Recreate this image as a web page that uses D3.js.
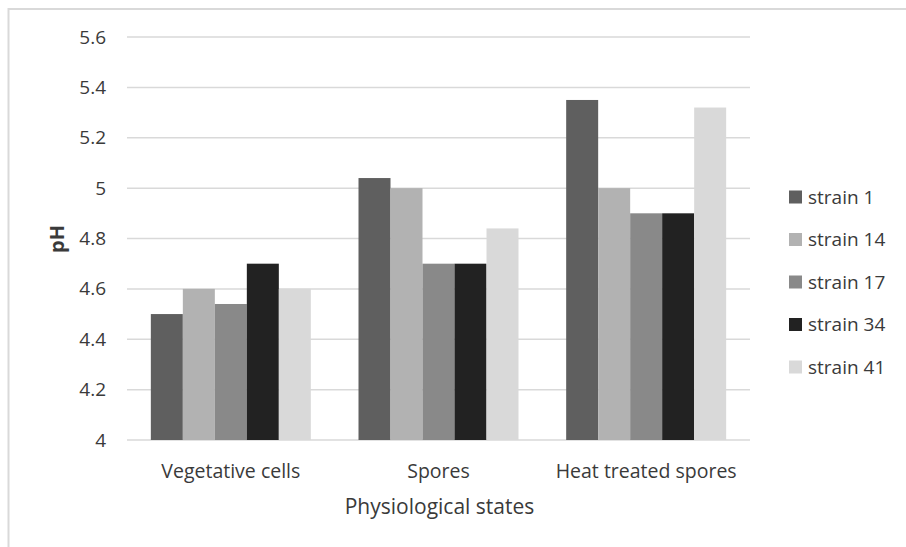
<!DOCTYPE html>
<html><head><meta charset="utf-8">
<script src="https://cdn.jsdelivr.net/npm/d3@7"></script>
<style>body{margin:0;background:#fff;} svg{display:block;}</style>
</head><body>
<script>
const categories = ["Vegetative cells", "Spores", "Heat treated spores"];
const seriesNames = ["strain 1", "strain 14", "strain 17", "strain 34", "strain 41"];
const strain1  = [4.50, 5.04, 5.35];
const strain14 = [4.60, 5.00, 5.00];
const strain17 = [4.54, 4.70, 4.90];
const strain34 = [4.70, 4.70, 4.90];
const strain41 = [4.60, 4.84, 5.32];
const yTicks = [4, 4.2, 4.4, 4.6, 4.8, 5, 5.2, 5.4, 5.6];
const colors = ["#5f5f5f", "#b2b2b2", "#898989", "#222222", "#d9d9d9"];
const seriesValues = [strain1, strain14, strain17, strain34, strain41];

const W = 906, H = 547;
const font = "'Open Sans', 'Noto Sans', sans-serif";
const svg = d3.select("body").append("svg").attr("width", W).attr("height", H);

// outer chart border
svg.append("rect").attr("x", 8.5).attr("y", 9).attr("width", 920).attr("height", 560)
  .attr("fill", "none").attr("stroke", "#d9d9d9").attr("stroke-width", 2);

const pLeft = 127, pRight = 750, pTop = 37, pBottom = 440;
const y = d3.scaleLinear().domain([4, 5.6]).range([pBottom, pTop]);
const x0 = d3.scaleBand().domain(categories).range([pLeft, pRight]).padding(0);
const x1 = d3.scaleBand().domain(seriesNames).range([0, x0.bandwidth()]).paddingInner(0).paddingOuter(0.745);

// gridlines
svg.append("g").selectAll("line").data(yTicks).join("line")
  .attr("x1", pLeft).attr("x2", pRight)
  .attr("y1", d => y(d)).attr("y2", d => y(d))
  .attr("stroke", "#d9d9d9").attr("stroke-width", 1.5);

// y axis labels via d3 axis
const yAxis = svg.append("g").attr("transform", `translate(${pLeft},0)`)
  .call(d3.axisLeft(y).tickValues(yTicks).tickSize(0).tickPadding(21).tickFormat(d => String(+d.toFixed(1))));
yAxis.select(".domain").remove();
yAxis.selectAll("text").attr("font-family", font).attr("font-size", 19).attr("fill", "#3a3a3a");

// bars
const groups = svg.append("g").selectAll("g").data(categories).join("g")
  .attr("transform", d => `translate(${x0(d)},0)`);
groups.selectAll("rect").data((c, ci) => seriesNames.map((s, si) => ({s, si, v: seriesValues[si][ci]})))
  .join("rect")
  .attr("x", d => x1(d.s)).attr("width", x1.bandwidth())
  .attr("y", d => y(d.v)).attr("height", d => y(4) - y(d.v))
  .attr("fill", d => colors[d.si]);

// x axis labels
const xAxis = svg.append("g").attr("transform", `translate(0,${pBottom})`)
  .call(d3.axisBottom(x0).tickSize(0).tickPadding(24));
xAxis.select(".domain").remove();
xAxis.selectAll("text").attr("font-family", font).attr("font-size", 19.5).attr("fill", "#3a3a3a");

// axis titles
svg.append("text").attr("x", (pLeft + pRight) / 2 + 1).attr("y", 514)
  .attr("text-anchor", "middle").attr("font-family", font).attr("font-size", 21).attr("fill", "#3a3a3a")
  .text("Physiological states");
svg.append("text").attr("transform", "translate(64,239) rotate(-90)")
  .attr("text-anchor", "middle").attr("font-family", font).attr("font-size", 20).attr("font-weight", "bold").attr("fill", "#3a3a3a")
  .text("pH");

// legend
const leg = svg.append("g").selectAll("g").data(seriesNames).join("g")
  .attr("transform", (d, i) => `translate(789,${197 + i * 42.5})`);
leg.append("rect").attr("x", 0).attr("y", -6.5).attr("width", 13).attr("height", 13).attr("fill", (d, i) => colors[i]);
leg.append("text").attr("x", 19).attr("y", 0).attr("dy", "0.35em")
  .attr("font-family", font).attr("font-size", 19).attr("fill", "#3a3a3a").text(d => d);
</script>
</body></html>
